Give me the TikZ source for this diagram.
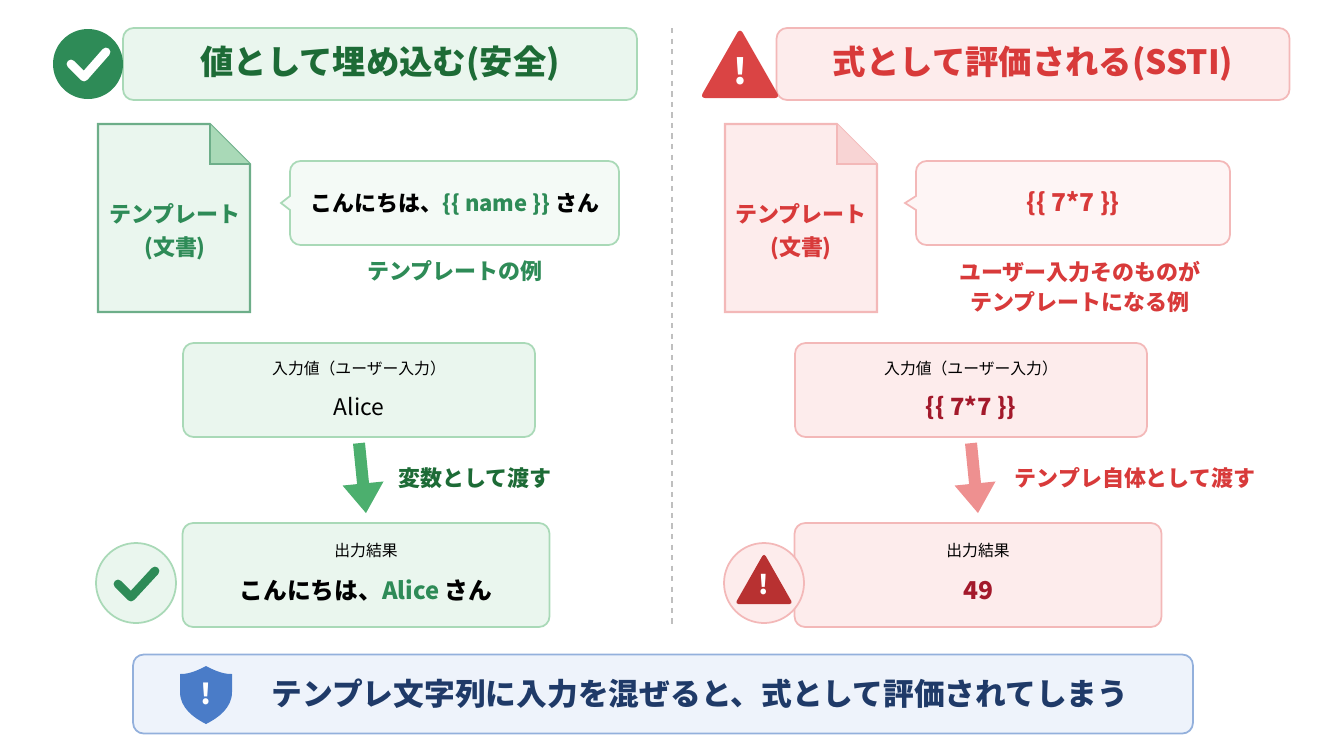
\documentclass[tikz,border=0pt]{standalone}
\usepackage{fontspec}
\setmainfont{Noto Sans CJK JP}
\usetikzlibrary{positioning,arrows.meta}
\definecolor{gdark}{HTML}{1D6B36}
\definecolor{gmid}{HTML}{2E8B57}
\definecolor{gfill}{HTML}{EAF6EE}
\definecolor{gline}{HTML}{A9D9B7}
\definecolor{garrow}{HTML}{4CAF6E}
\definecolor{rdark}{HTML}{A3192B}
\definecolor{rmid}{HTML}{D83A3A}
\definecolor{rfill}{HTML}{FDECEC}
\definecolor{rline}{HTML}{F3B8B8}
\definecolor{rarrow}{HTML}{EE9090}
\definecolor{bfill}{HTML}{EEF3FB}
\definecolor{bline}{HTML}{93B0DC}
\definecolor{bdark}{HTML}{1F3A68}
\definecolor{bmid}{HTML}{4A7CC8}
\begin{document}
\begin{tikzpicture}[x=0.02cm,y=-0.02cm,
	box/.style={rectangle, rounded corners=6pt, line width=1pt, minimum width=#1},
	gbox/.style={box=#1, draw=gline, fill=gfill},
	rbox/.style={box=#1, draw=rline, fill=rfill},
	title/.style={font=\bfseries\fontsize{19}{22}\selectfont},
	body/.style={font=\bfseries\fontsize{12.5}{15}\selectfont},
	small/.style={font=\fontsize{9}{11}\selectfont},
	bigarrow/.style={line width=0.24cm, -{Triangle[length=0.6cm,width=0.78cm]}}
	]
	\useasboundingbox (0,0) rectangle (1344,752);
	% titles
	\node[gbox=10.28cm, minimum height=1.44cm] (titleL) at (380,64) {};
	\node[title, text=gdark] at (titleL) {値として埋め込む(安全)};
	\node[circle, fill=gmid, minimum size=1.4cm] (okL) at (88,64) {};
	\draw[white, line width=5pt, line cap=round, line join=round] (71,64) -- (84,77) -- (106,52);
	\node[rbox=10.26cm, minimum height=1.44cm] (titleR) at (1033,64) {};
	\node[title, text=rmid] at (titleR) {式として評価される(SSTI)};
	\fill[rmid!95, rounded corners=3pt] (740,28) -- (780,98) -- (700,98) -- cycle;
	\node[font=\bfseries\fontsize{20}{20}\selectfont, text=white] (warnR) at (740,71) {!};
	\draw[gray!50, dashed, line width=1pt] (672,28) -- (672,628);
	% documents
	\filldraw[fill=gfill, draw=gmid!70, line width=1.2pt] (98,124) -- (210,124) -- (250,164) -- (250,312) -- (98,312) -- cycle;
	\filldraw[fill=gline, draw=gmid!70, line width=1pt] (210,124) -- (210,164) -- (250,164);
	\node[body, text=gmid, align=center] (docL) at (175,232) {テンプレート\\[4pt](文書)};
	\filldraw[fill=rfill, draw=rline, line width=1.2pt] (725,124) -- (837,124) -- (877,164) -- (877,312) -- (725,312) -- cycle;
	\filldraw[fill=rline!60, draw=rline, line width=1pt] (837,124) -- (837,164) -- (877,164);
	\node[body, text=rmid, align=center] (docR) at (801,232) {テンプレート\\[4pt](文書)};
	% bubbles
	\filldraw[fill=gfill!50, draw=gline, line width=1pt, rounded corners=6pt] (290,161) -- (619,161) -- (619,245) -- (290,245) [sharp corners] -- (290,210) -- (281,203) -- (290,196) [rounded corners=6pt] -- cycle;
	\node[body] (tplL) at (455,204) {こんにちは、\textcolor{gmid}{\{\{ name \}\}} さん};
	\node[body, text=gmid] (capL) at (455,271) {テンプレートの例};
	\filldraw[fill=rfill!50, draw=rline, line width=1pt, rounded corners=6pt] (916,161) -- (1230,161) -- (1230,245) -- (916,245) [sharp corners] -- (916,210) -- (905,203) -- (916,196) [rounded corners=6pt] -- cycle;
	\node[body, text=rmid, font=\bfseries\fontsize{14}{16}\selectfont] (tplR) at (1073,204) {\{\{ 7*7 \}\}};
	\node[body, text=rmid, align=center] (capR) at (1080,287) {ユーザー入力そのものが\\[2pt]テンプレートになる例};
	% inputs
	\node[gbox=7.04cm, minimum height=1.88cm] (inL) at (359,390) {};
	\node[small] at (359,368) {入力値（ユーザー入力）};
	\node[font=\fontsize{13}{15}\selectfont] at (359,407) {Alice};
	\node[rbox=7.04cm, minimum height=1.88cm] (inR) at (971,390) {};
	\node[small] at (971,368) {入力値（ユーザー入力）};
	\node[body, text=rdark, font=\bfseries\fontsize{13.5}{15}\selectfont] at (971,408) {\{\{ 7*7 \}\}};
	% outputs
	\node[gbox=7.34cm, minimum height=2.08cm] (outL) at (366,575) {};
	\node[small] at (366,551) {出力結果};
	\node[body, font=\bfseries\fontsize{13.5}{16}\selectfont] at (366,591) {こんにちは、\textcolor{gmid}{Alice} さん};
	\node[rbox=7.34cm, minimum height=2.08cm] (outR) at (978,575) {};
	\node[small] at (978,551) {出力結果};
	\node[body, text=rdark, font=\bfseries\fontsize{14}{16}\selectfont] at (978,591) {49};
	% arrows
	\draw[bigarrow, garrow] ([yshift=-3pt]inL.south) -- ([yshift=5pt]outL.north);
	\node[body, text=gdark] (passL) at (475,478) {変数として渡す};
	\draw[bigarrow, rarrow] ([yshift=-3pt]inR.south) -- ([yshift=5pt]outR.north);
	\node[body, text=rmid] (passR) at (1135,478) {テンプレ自体として渡す};
	% badges
	\node[circle, draw=gline, fill=gfill, line width=1pt, minimum size=1.6cm] (badgeL) at (136,583) {};
	\draw[gmid, line width=5pt, line cap=round, line join=round] (118,584) -- (131,597) -- (155,571);
	\node[circle, draw=rline, fill=rfill, line width=1pt, minimum size=1.6cm] (badgeR) at (764,583) {};
	\fill[rmid!85!black, rounded corners=2pt] (764,553) -- (793,604) -- (735,604) -- cycle;
	\node[font=\bfseries\fontsize{15}{15}\selectfont, text=white] at (764,585) {!};
	% note
	\node[box=21.2cm, minimum height=1.58cm, draw=bline, fill=bfill] (note) at (663,694) {};
	\fill[bmid] (206,666) .. controls (193,673) and (186,674) .. (180,674) -- (180,692) .. controls (180,708) and (194,718) .. (206,724) .. controls (218,718) and (232,708) .. (232,692) -- (232,674) .. controls (226,674) and (219,673) .. (206,666) -- cycle;
	\node[font=\bfseries\fontsize{16}{16}\selectfont, text=white] at (206,694) {!};
	\node[text=bdark, font=\bfseries\fontsize{17.5}{20}\selectfont] (noteText) at (700,694) {テンプレ文字列に入力を混ぜると、式として評価されてしまう};
\end{tikzpicture}
\end{document}
